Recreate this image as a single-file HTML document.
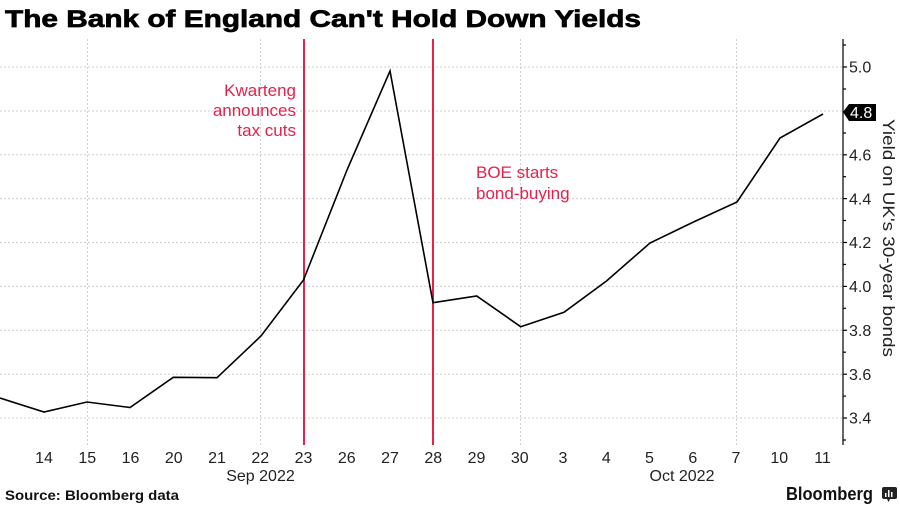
<!DOCTYPE html>
<html><head><meta charset="utf-8"><style>
html,body{margin:0;padding:0;background:#fff;}
svg{display:block;}
text{font-family:"Liberation Sans",sans-serif;}
</style></head><body>
<svg width="900" height="506" viewBox="0 0 900 506" xmlns="http://www.w3.org/2000/svg">
<rect width="900" height="506" fill="#fff"/>
<text x="5" y="27" font-size="24.5" font-weight="bold" fill="#000" stroke="#000" stroke-width="0.7" textLength="636" lengthAdjust="spacingAndGlyphs">The Bank of England Can't Hold Down Yields</text>
<g stroke="#cfcfcf" stroke-width="1" stroke-dasharray="2,2">
<line x1="0" y1="67" x2="843" y2="67"/>
<line x1="0" y1="111" x2="843" y2="111"/>
<line x1="0" y1="154.8" x2="843" y2="154.8"/>
<line x1="0" y1="198.6" x2="843" y2="198.6"/>
<line x1="0" y1="242.5" x2="843" y2="242.5"/>
<line x1="0" y1="286.4" x2="843" y2="286.4"/>
<line x1="0" y1="330.3" x2="843" y2="330.3"/>
<line x1="0" y1="374.2" x2="843" y2="374.2"/>
<line x1="0" y1="418" x2="843" y2="418"/>
<line x1="87.5" y1="39" x2="87.5" y2="445"/>
<line x1="260.5" y1="39" x2="260.5" y2="445"/>
<line x1="520.5" y1="39" x2="520.5" y2="445"/>
<line x1="736.5" y1="39" x2="736.5" y2="445"/>
</g>
<g stroke="#e8204a" stroke-width="2">
<line x1="304" y1="39" x2="304" y2="445"/>
<line x1="433" y1="39" x2="433" y2="445"/>
</g>
<g fill="#e8204a" font-size="17">
<text x="296" y="96" text-anchor="end">Kwarteng</text>
<text x="296" y="116" text-anchor="end">announces</text>
<text x="296" y="136" text-anchor="end">tax cuts</text>
<text x="476" y="178">BOE starts</text>
<text x="476" y="199">bond-buying</text>
</g>
<polyline fill="none" stroke="#000" stroke-width="1.6" stroke-linejoin="miter" points="0,398 44,412 87,402 130,407.5 173.3,377.3 217,377.7 261,336 303.5,280 347,170 390,71 433,302.7 476.7,296 520.7,326.7 564,312.3 606.5,281 650,243 693.5,222 737,202 780,138 823,114"/>
<g stroke="#000" stroke-width="1.2">
<line x1="843" y1="39" x2="843" y2="445"/>
<line x1="843" y1="67" x2="847" y2="67"/>
<line x1="843" y1="89" x2="846" y2="89"/>
<line x1="843" y1="133" x2="846" y2="133"/>
<line x1="843" y1="154.8" x2="847" y2="154.8"/>
<line x1="843" y1="176.7" x2="846" y2="176.7"/>
<line x1="843" y1="198.6" x2="847" y2="198.6"/>
<line x1="843" y1="220.5" x2="846" y2="220.5"/>
<line x1="843" y1="242.5" x2="847" y2="242.5"/>
<line x1="843" y1="264.4" x2="846" y2="264.4"/>
<line x1="843" y1="286.4" x2="847" y2="286.4"/>
<line x1="843" y1="308.3" x2="846" y2="308.3"/>
<line x1="843" y1="330.3" x2="847" y2="330.3"/>
<line x1="843" y1="352.2" x2="846" y2="352.2"/>
<line x1="843" y1="374.2" x2="847" y2="374.2"/>
<line x1="843" y1="396.1" x2="846" y2="396.1"/>
<line x1="843" y1="418" x2="847" y2="418"/>
<line x1="843" y1="440" x2="846" y2="440"/>
<line x1="843" y1="45" x2="846" y2="45"/>
</g>
<g fill="#222" font-size="16">
<text x="849" y="72.5">5.0</text>
<text x="849" y="160.5">4.6</text>
<text x="849" y="204.3">4.4</text>
<text x="849" y="248.2">4.2</text>
<text x="849" y="292.1">4.0</text>
<text x="849" y="336">3.8</text>
<text x="849" y="379.9">3.6</text>
<text x="849" y="423.7">3.4</text>
</g>
<polygon points="843,112 849,104 876,104 876,121 849,121" fill="#000"/>
<text x="850" y="118" font-size="16" fill="#fff">4.8</text>
<text transform="translate(883,119) rotate(90)" font-size="17" fill="#222" textLength="238" lengthAdjust="spacingAndGlyphs">Yield on UK's 30-year bonds</text>
<g fill="#222" font-size="16" text-anchor="middle">
<text x="44" y="463">14</text>
<text x="87.3" y="463">15</text>
<text x="130.5" y="463">16</text>
<text x="173.8" y="463">20</text>
<text x="217" y="463">21</text>
<text x="260.3" y="463">22</text>
<text x="303.5" y="463">23</text>
<text x="346.8" y="463">26</text>
<text x="390" y="463">27</text>
<text x="433.3" y="463">28</text>
<text x="476.5" y="463">29</text>
<text x="519.8" y="463">30</text>
<text x="563" y="463">3</text>
<text x="606.3" y="463">4</text>
<text x="649.5" y="463">5</text>
<text x="692.8" y="463">6</text>
<text x="736" y="463">7</text>
<text x="779.3" y="463">10</text>
<text x="822.5" y="463">11</text>
<text x="260.5" y="481">Sep 2022</text>
<text x="682" y="481">Oct 2022</text>
</g>
<text x="5" y="500" font-size="14" font-weight="bold" fill="#111" textLength="174" lengthAdjust="spacingAndGlyphs">Source: Bloomberg data</text>
<text x="786" y="500" font-size="18" font-weight="bold" fill="#111" textLength="87" lengthAdjust="spacingAndGlyphs">Bloomberg</text>
<rect x="882" y="487" width="15" height="12" rx="2" fill="#222"/>
<polygon points="887,499 890,499 888.5,502" fill="#222"/>
<g fill="#fff">
<rect x="885" y="493" width="1.5" height="4"/>
<rect x="888" y="490" width="1.5" height="7"/>
<rect x="891" y="492" width="1.5" height="5"/>
</g>
</svg>
</body></html>
